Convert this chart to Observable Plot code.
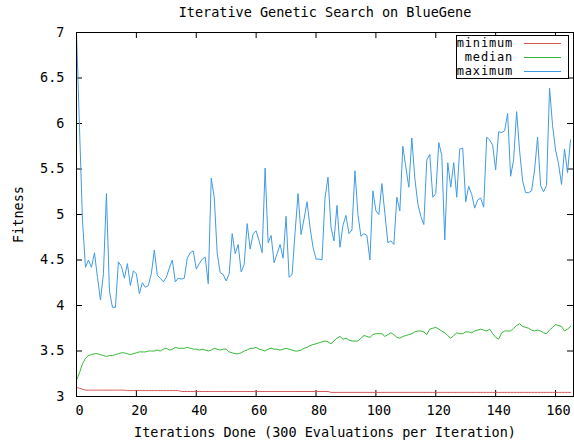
<!DOCTYPE html>
<html>
<head>
<meta charset="utf-8">
<script src="https://cdn.jsdelivr.net/npm/d3@7"></script>
<script src="https://cdn.jsdelivr.net/npm/@observablehq/plot@0.6"></script>
<style>
  body { margin: 0; background: #fff; }
  #wrap { position: relative; width: 574px; height: 443px; overflow: hidden; }
  #legend { position: absolute; left: 456px; top: 35px; width: 111px; height: 42px;
            border: 1px solid #000; background: #fff;
            font: 12px "DejaVu Sans Mono", monospace; letter-spacing: 0.8px; color: #000; }
  #legend .lab { position: absolute; right: 55px; line-height: 14px; white-space: nowrap; }
  #legend .sw { position: absolute; left: 67px; width: 37px; height: 0; border-top: 1px solid; }
</style>
</head>
<body>
<div id="wrap"></div>
<script>
const titleText = "Iterative Genetic Search on BlueGene";
const xLabel = "Iterations Done (300 Evaluations per Iteration)";
const yLabel = "Fitness";
const seriesNames = ["minimum", "median", "maximum"];
const seriesColors = ["#d65a5a", "#35b835", "#3f9be6"];
const xTicks = [0, 20, 40, 60, 80, 100, 120, 140, 160];
const yTicks = [3, 3.5, 4, 4.5, 5, 5.5, 6, 6.5, 7];

const minimum = [
  3.10,3.09,3.08,3.07,3.07,3.07,3.07,3.07,3.07,3.07,
  3.07,3.07,3.07,3.07,3.07,3.07,3.07,3.065,3.065,3.065,
  3.065,3.065,3.065,3.065,3.065,3.065,3.065,3.065,3.065,3.065,
  3.065,3.065,3.065,3.065,3.065,3.055,3.055,3.055,3.055,3.055,
  3.055,3.055,3.055,3.055,3.055,3.055,3.055,3.055,3.055,3.055,
  3.055,3.055,3.055,3.055,3.055,3.055,3.055,3.055,3.055,3.055,
  3.055,3.055,3.055,3.055,3.055,3.055,3.055,3.055,3.055,3.055,
  3.055,3.055,3.055,3.055,3.055,3.055,3.055,3.055,3.055,3.055,
  3.055,3.055,3.055,3.055,3.055,3.045,3.045,3.045,3.045,3.045,
  3.045,3.045,3.045,3.045,3.045,3.045,3.045,3.045,3.045,3.045,
  3.045,3.045,3.045,3.045,3.045,3.045,3.045,3.045,3.045,3.045,
  3.045,3.045,3.045,3.045,3.045,3.045,3.045,3.045,3.045,3.045,
  3.045,3.045,3.045,3.045,3.045,3.045,3.045,3.045,3.045,3.045,
  3.045,3.045,3.045,3.045,3.045,3.045,3.045,3.045,3.045,3.045,
  3.045,3.045,3.045,3.045,3.045,3.045,3.045,3.045,3.045,3.045,
  3.045,3.045,3.045,3.045,3.045,3.045,3.045,3.045,3.045,3.045,
  3.045,3.045,3.045,3.045,3.045,3.045
];

const median = [
  3.18,3.26,3.36,3.42,3.45,3.46,3.47,3.47,3.46,3.45,
  3.44,3.45,3.45,3.46,3.47,3.48,3.48,3.47,3.46,3.47,
  3.48,3.49,3.49,3.49,3.50,3.50,3.50,3.51,3.50,3.52,
  3.53,3.51,3.52,3.54,3.53,3.53,3.53,3.54,3.53,3.52,
  3.52,3.51,3.52,3.51,3.50,3.51,3.53,3.52,3.51,3.52,
  3.52,3.49,3.48,3.47,3.47,3.48,3.50,3.51,3.53,3.53,
  3.54,3.52,3.51,3.50,3.52,3.53,3.52,3.52,3.51,3.52,
  3.53,3.52,3.51,3.50,3.50,3.51,3.53,3.54,3.56,3.57,
  3.58,3.59,3.60,3.61,3.60,3.58,3.61,3.64,3.66,3.63,
  3.64,3.62,3.61,3.61,3.61,3.64,3.67,3.66,3.65,3.68,
  3.69,3.69,3.69,3.66,3.68,3.70,3.68,3.65,3.64,3.66,
  3.67,3.68,3.69,3.71,3.72,3.72,3.71,3.68,3.74,3.75,
  3.76,3.74,3.72,3.70,3.67,3.64,3.67,3.70,3.69,3.69,
  3.71,3.71,3.70,3.72,3.73,3.74,3.73,3.72,3.74,3.69,
  3.65,3.63,3.70,3.72,3.72,3.72,3.75,3.78,3.80,3.77,
  3.76,3.75,3.73,3.72,3.73,3.72,3.70,3.69,3.73,3.76,
  3.79,3.78,3.77,3.72,3.74,3.77
];

const maximum = [
  7.00,5.96,4.93,4.42,4.50,4.42,4.58,4.31,4.06,4.35,
  5.23,4.16,3.98,3.98,4.48,4.43,4.30,4.46,4.22,4.38,
  4.35,4.13,4.25,4.20,4.22,4.35,4.61,4.33,4.30,4.26,
  4.31,4.41,4.50,4.26,4.30,4.29,4.30,4.52,4.58,4.60,
  4.40,4.46,4.51,4.53,4.24,5.40,5.19,4.57,4.36,4.34,
  4.27,4.35,4.79,4.57,4.67,4.37,4.45,4.90,4.62,4.79,
  4.82,4.71,4.58,5.51,4.69,4.77,4.47,4.57,4.67,4.52,
  4.98,4.31,4.34,4.80,5.23,4.78,4.95,5.14,4.86,4.64,
  4.51,4.51,4.50,5.18,5.41,4.86,4.71,5.10,4.64,4.88,
  4.99,4.79,4.83,5.48,5.00,4.76,4.79,4.77,4.50,5.26,
  5.04,5.00,5.34,5.01,4.69,4.71,4.67,5.19,5.04,5.75,
  5.52,5.30,5.84,5.40,5.12,4.98,4.89,5.60,5.66,5.19,
  5.23,5.79,5.65,4.72,5.57,5.30,5.57,5.19,5.72,5.73,
  5.14,5.31,5.22,5.07,5.16,5.18,5.08,5.85,5.82,5.76,
  5.49,5.91,5.90,5.92,6.11,5.42,5.60,6.13,5.70,5.37,
  5.24,5.24,5.26,5.49,5.85,5.32,5.25,5.32,6.39,5.98,
  5.71,5.56,5.33,5.72,5.46,5.82
];

const seriesValues = [minimum, median, maximum];
const rows = seriesValues.map(vals => vals.map((v, i) => ({iter: i, value: v})));

const W = 574, H = 443, mL = 76, mR = 1, mT = 32, mB = 47;
const fw = W - mL - mR, fh = H - mT - mB;
const tl = 6;

const chart = Plot.plot({
  width: W, height: H,
  marginLeft: mL, marginRight: mR, marginTop: mT, marginBottom: mB,
  style: {fontFamily: "'DejaVu Sans Mono', monospace", fontSize: "13.5px", background: "#fff", color: "#000"},
  x: {domain: [0, 166]},
  y: {domain: [3, 7]},
  marks: [
    Plot.tickY(yTicks, {y: d => d, insetRight: fw - tl, stroke: "#000"}),
    Plot.tickY(yTicks, {y: d => d, insetLeft: fw - tl, stroke: "#000"}),
    Plot.tickX(xTicks, {x: d => d, insetTop: fh - tl, stroke: "#000"}),
    Plot.tickX(xTicks, {x: d => d, insetBottom: fh - tl, stroke: "#000"}),
    ...rows.map((r, k) => Plot.line(r, {x: "iter", y: "value", stroke: seriesColors[k], strokeWidth: 1})),
    Plot.frame({stroke: "#000"}),
    Plot.axisX({ticks: xTicks, tickSize: 0, tickPadding: 9, dx: 3, tickFormat: d => String(d), label: null}),
    Plot.axisY({ticks: yTicks, tickSize: 0, tickPadding: 12, tickFormat: d => String(d), label: null}),
    Plot.text([titleText], {frameAnchor: "top", lineAnchor: "middle", dy: -20}),
    Plot.text([xLabel], {frameAnchor: "bottom", lineAnchor: "middle", dy: 36}),
    Plot.text([yLabel], {frameAnchor: "left", textAnchor: "middle", lineAnchor: "middle", rotate: -90, dx: -58})
  ]
});

const wrap = document.getElementById("wrap");
wrap.appendChild(chart);

const legend = document.createElement("div");
legend.id = "legend";
seriesNames.forEach((name, k) => {
  const lab = document.createElement("div");
  lab.className = "lab";
  lab.style.top = (0 + 14 * k) + "px";
  lab.textContent = name;
  legend.appendChild(lab);
  const sw = document.createElement("div");
  sw.className = "sw";
  sw.style.top = (7 + 14 * k) + "px";
  sw.style.borderTopColor = seriesColors[k];
  legend.appendChild(sw);
});
wrap.appendChild(legend);
</script>
</body>
</html>
